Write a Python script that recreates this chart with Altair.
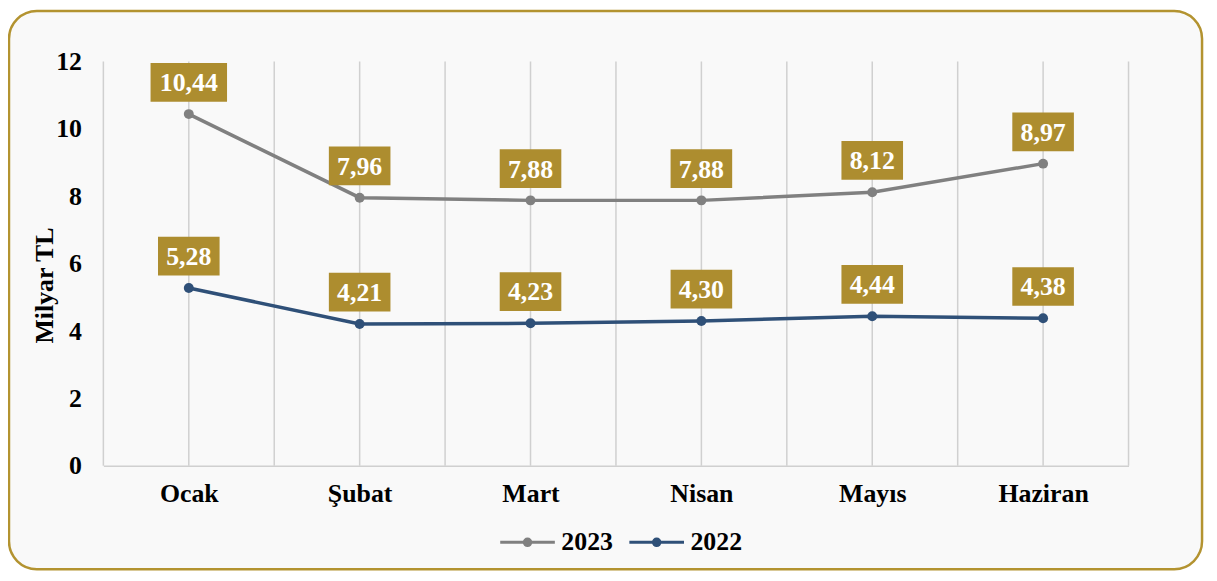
import altair as alt
import pandas as pd

months = ["Ocak", "Şubat", "Mart", "Nisan", "Mayıs", "Haziran"]
series_2023 = [10.44, 7.96, 7.88, 7.88, 8.12, 8.97]
series_2022 = [5.28, 4.21, 4.23, 4.30, 4.44, 4.38]
series_names = ["2023", "2022"]
y_ticks = [0, 2, 4, 6, 8, 10, 12]

FONT = "Liberation Serif"
FS = 26
GOLD = "#AD8D2F"
FRAME = "#B39330"
COLORS = ["#808080", "#2F5078"]
GRID = "#D0D0D0"

rows = []
for name, vals in zip(series_names, [series_2023, series_2022]):
    for i, (m, v) in enumerate(zip(months, vals)):
        rows.append({"idx": i, "month": m, "seri": name, "value": v,
                     "label": f"{v:.2f}".replace(".", ",")})
df = pd.DataFrame(rows)
df["wide"] = df["label"].str.len() >= 5

x_vals = [i / 2 for i in range(-1, 12)]
grid_df = pd.DataFrame({"idx": x_vals})

label_expr = "datum.value % 1 == 0 ? [" + ",".join(f"'{m}'" for m in months) + "][datum.value] : ''"

W, H = 1032, 407

x_scale = alt.Scale(domain=[-0.5, 5.5], nice=False, zero=False)
x_axis = alt.Axis(values=list(range(len(months))), labelExpr=label_expr, title=None, grid=False,
                  ticks=False, domainColor=GRID, domainWidth=1.5, zindex=1,
                  labelFont=FONT, labelFontSize=FS, labelFontWeight="bold",
                  labelColor="#000000", labelPadding=15, labelFlush=False)
y_enc = alt.Y("value:Q", scale=alt.Scale(domain=[0, 12], nice=False),
              axis=alt.Axis(values=y_ticks, grid=False, domain=False, ticks=False, zindex=1,
                            labelFont=FONT, labelFontSize=FS, labelFontWeight="bold",
                            labelColor="#000000", labelPadding=22,
                            title="Milyar TL", titleFont=FONT, titleFontSize=FS,
                            titleFontWeight="bold", titleColor="#000000",
                            titleX=-59, titleY=225, titleAngle=-90,
                            titleAlign="center", titleBaseline="middle"))

frame = alt.Chart(grid_df).mark_rect(cornerRadius=28, fill="#F9F9F9", stroke=FRAME, strokeWidth=2.5).encode(
    x=alt.value(-95), x2=alt.value(1106), y=alt.value(-51), y2=alt.value(511)
).transform_filter("datum.idx == 0")

grid = alt.Chart(grid_df).mark_rule(color=GRID, strokeWidth=1.5).encode(
    x=alt.X("idx:Q", scale=x_scale, axis=x_axis),
    y=alt.value(0), y2=alt.value(H)
)

legend_path = "M-1,0L1,0M0.12,0A0.12,0.12,0,1,1,-0.12,0A0.12,0.12,0,1,1,0.12,0Z"

color_enc = alt.Color("seri:N", scale=alt.Scale(domain=series_names, range=COLORS),
                      sort=series_names,
                      legend=alt.Legend(title=None, orient="none", direction="horizontal",
                                        legendX=398, legendY=455,
                                        symbolType=legend_path, symbolSize=3025,
                                        symbolStrokeWidth=3, labelOffset=5,
                                        columnPadding=10,
                                        labelFont=FONT, labelFontSize=FS,
                                        labelFontWeight="bold", labelColor="#000000"))

base = alt.Chart(df)

lines = base.mark_line(strokeWidth=3.5, point=alt.OverlayMarkDef(size=100, filled=True)).encode(
    x="idx:Q", y=y_enc, color=color_enc, detail="seri:N"
)

box_wide = base.mark_rect(fill=GOLD, width=77, height=39, yOffset=-32).encode(
    x="idx:Q", y="value:Q"
).transform_filter("datum.wide")
box_narrow = base.mark_rect(fill=GOLD, width=62, height=39, yOffset=-32).encode(
    x="idx:Q", y="value:Q"
).transform_filter("!datum.wide")

text = base.mark_text(font=FONT, fontSize=FS, fontWeight="bold", color="#FFFFFF",
                      baseline="middle", align="center", dy=-31).encode(
    x="idx:Q", y="value:Q", text="label:N"
)

chart = alt.layer(frame, grid, lines, box_wide, box_narrow, text).properties(
    width=W, height=H,
    autosize=alt.AutoSizeParams(type="none"),
    padding={"left": 96, "top": 52, "right": 81, "bottom": 114},
    background="#FFFFFF",
).configure_view(stroke="transparent")

chart.save("out.html", embed_options={"renderer": "svg", "actions": False})
